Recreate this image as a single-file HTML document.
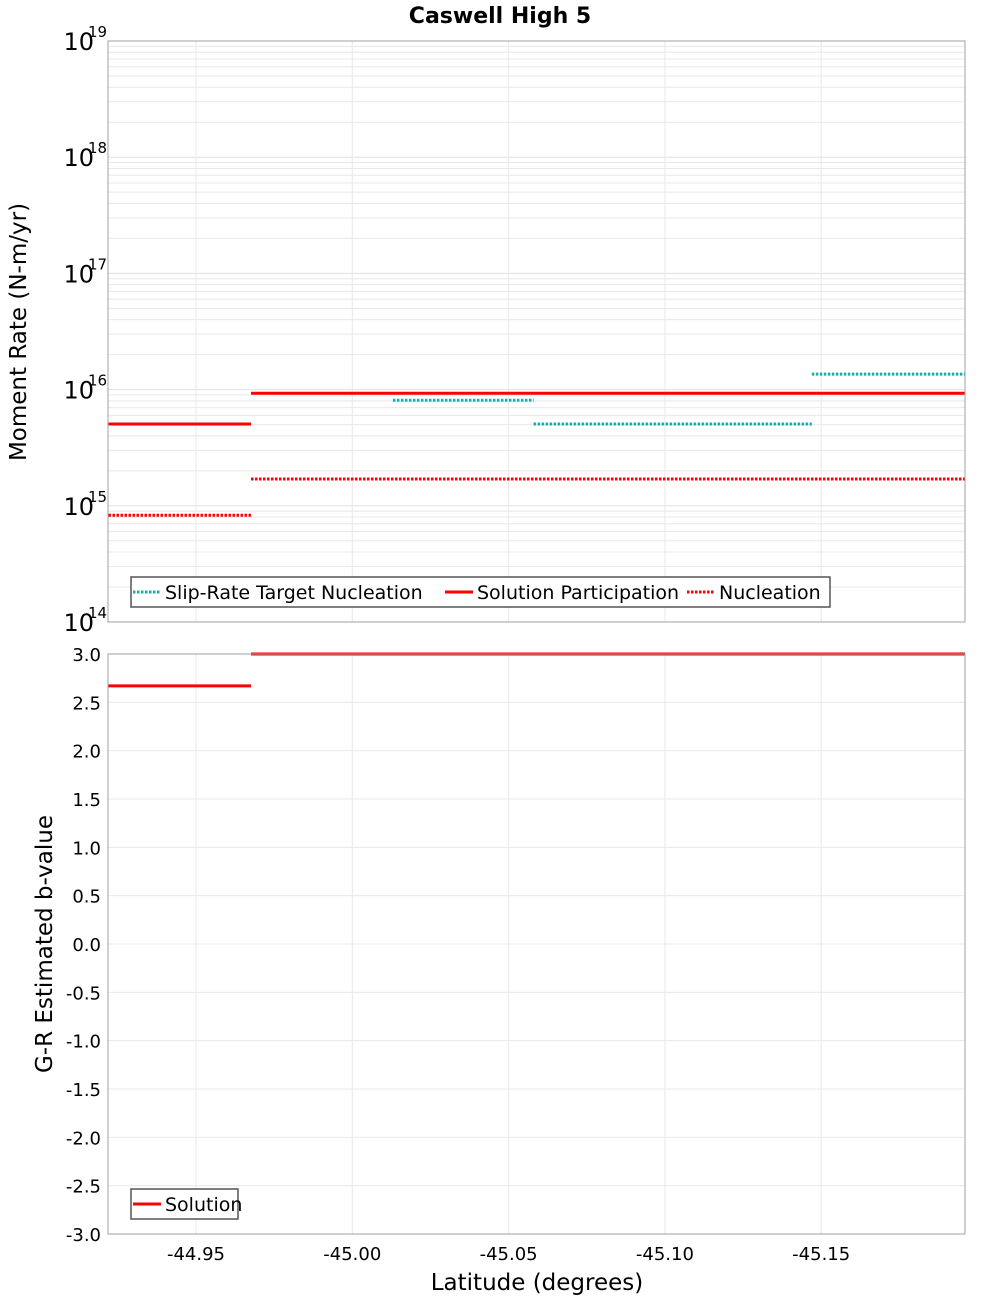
<!DOCTYPE html>
<html><head><meta charset="utf-8"><style>
body{margin:0;background:#fff;}
svg text{font-family:"DejaVu Sans","Liberation Sans",sans-serif;}
</style></head><body>
<svg id="chart" width="1000" height="1300" xmlns="http://www.w3.org/2000/svg" style="position:absolute;left:0;top:0">
<rect width="1000" height="1300" fill="#fff"/>
<text x="500" y="23" text-anchor="middle" font-size="22" font-weight="bold">Caswell High 5</text>
<g id="topg"></g><g id="botg"></g>
<text transform="translate(26,332) rotate(-90)" text-anchor="middle" font-size="23">Moment Rate (N-m/yr)</text>
<text transform="translate(52,944) rotate(-90)" text-anchor="middle" font-size="23">G-R Estimated b-value</text>
<text x="537" y="1290" text-anchor="middle" font-size="23">Latitude (degrees)</text>
</svg>
<script>
const xTicks=[-44.95,-45.00,-45.05,-45.10,-45.15];
const xTickLabels=["-44.95","-45.00","-45.05","-45.10","-45.15"];
// Each series: [startLat, endLat, value]
const participation=[[-44.922,-44.9676,5.06e15],[-44.9676,-45.196,9.3e15]];
const nucleation=[[-44.922,-44.9676,8.3e14],[-44.9676,-45.196,1.7e15]];
const slipTarget=[[-45.013,-45.058,8.1e15],[-45.058,-45.147,5.06e15],[-45.147,-45.196,1.36e16]];
const bSolution=[[-44.922,-44.9676,2.67],[-44.9676,-45.196,3.0]];
const logDecades=[14,15,16,17,18,19];
const bTicks=[3.0,2.5,2.0,1.5,1.0,0.5,0.0,-0.5,-1.0,-1.5,-2.0,-2.5,-3.0];

const NS="http://www.w3.org/2000/svg";
const L=108,R=965,T1=41,B1=622,T2=654,B2=1234;
const xs=v=>196+(v-(-44.95))/(-0.05)*156.3;
const ly=v=>T1+(19-Math.log10(v))*(B1-T1)/5;
const by=v=>T2+(3-v)*(B2-T2)/6;
function el(p,tag,a,txt){const e=document.createElementNS(NS,tag);for(const k in a)e.setAttribute(k,a[k]);if(txt!==undefined)e.textContent=txt;p.appendChild(e);return e;}
const topG=document.getElementById('topg'),botG=document.getElementById('botg');

for(let d=14;d<19;d++){for(let m=2;m<10;m++){const y=ly(m*Math.pow(10,d));
const g=el(topG,'line',{x1:L,x2:R,y1:y,y2:y,stroke:'#e8e8e8','stroke-width':1});

}}
logDecades.forEach(d=>{const y=ly(Math.pow(10,d));
const g=el(topG,'line',{x1:L,x2:R,y1:y,y2:y,stroke:'#e0e0e0'});


const t=el(topG,'text',{x:94,y:y+9,'font-size':24,'text-anchor':'end'},'10');


const s=el(topG,'text',{x:88,y:y-4,'font-size':15},String(d));

});
xTicks.forEach(v=>{[[T1,B1,topG],[T2,B2,botG]].forEach(([a,b,p])=>{
const g=el(p,'line',{x1:xs(v),x2:xs(v),y1:a,y2:b,stroke:'#e8e8e8'});

});});
bTicks.forEach(v=>{const y=by(v);
const g=el(botG,'line',{x1:L,x2:R,y1:y,y2:y,stroke:'#e8e8e8'});


const t=el(botG,'text',{x:101,y:y+7,'font-size':18,'text-anchor':'end'},v.toFixed(1));

});
xTicks.forEach((v,i)=>{const t=el(botG,'text',{x:xs(v),y:1260,'font-size':18,'text-anchor':'middle'},xTickLabels[i]);

});

function segs(p,arr,yf,color,dash,name){arr.forEach(s=>{const a={x1:xs(s[0]),x2:xs(s[1]),y1:yf(s[2]),y2:yf(s[2]),stroke:color,'stroke-width':3};
if(dash)a['stroke-dasharray']='2.5,1.5';const e=el(p,'line',a);

});}
segs(topG,slipTarget,ly,'#10b0b0',true,'slip-rate-target-segment');
segs(topG,participation,ly,'#ff0000',false,'participation-segment');
segs(topG,nucleation,ly,'#ff0000',true,'nucleation-segment');
segs(botG,bSolution,by,'#ff0000',false,'b-value-segment');

[[T1,B1,topG],[T2,B2,botG]].forEach(([a,b,p])=>{const r=el(p,'rect',{x:L,y:a,width:R-L,height:b-a,fill:'none',stroke:'#a0a0a0'});

});

function legend(p,x,y,w,items,name){const g=el(p,'g',{});


el(g,'rect',{x:x,y:y,width:w,height:30,fill:'#fff',stroke:'#555','stroke-width':1.5});
items.forEach(it=>{const a={x1:it[0],x2:it[0]+28,y1:y+15,y2:y+15,stroke:it[2],'stroke-width':3};if(it[3])a['stroke-dasharray']='2.5,1.5';
el(g,'line',a);el(g,'text',{x:it[0]+32,y:y+22,'font-size':19},it[1]);});}
legend(topG,131,577,699,[[133,'Slip-Rate Target Nucleation','#10b0b0',true],[445,'Solution Participation','#ff0000',false],[687,'Nucleation','#ff0000',true]],'top-legend');
legend(botG,131,1189,107,[[133,'Solution','#ff0000',false]],'bottom-legend');
</script>
</body></html>
